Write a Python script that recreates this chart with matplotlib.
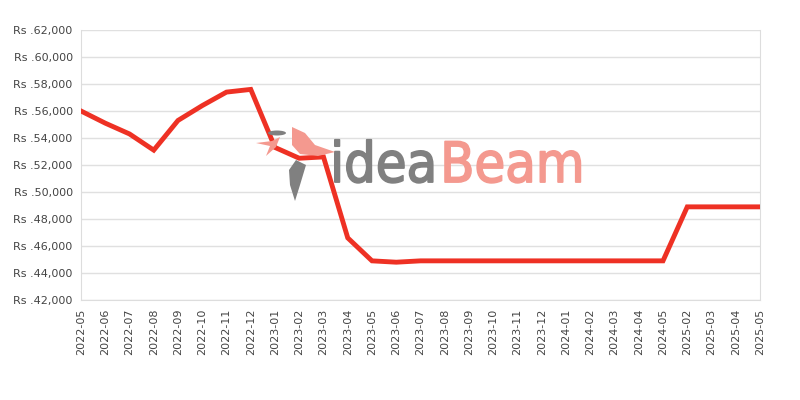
import matplotlib.pyplot as plt
import matplotlib.patheffects as pe
from matplotlib.ticker import FuncFormatter
from matplotlib.patches import Polygon, Ellipse

months = ['2022-05', '2022-06', '2022-07', '2022-08', '2022-09', '2022-10',
          '2022-11', '2022-12', '2023-01', '2023-02', '2023-03', '2023-04',
          '2023-05', '2023-06', '2023-07', '2023-08', '2023-09', '2023-10',
          '2023-11', '2023-12', '2024-01', '2024-02', '2024-03', '2024-04',
          '2024-05', '2025-02', '2025-03', '2025-04', '2025-05']
prices = [56000, 55100, 54300, 53100, 55300, 56400,
          57400, 57600, 53300, 52500, 52600, 46600,
          44900, 44800, 44900, 44900, 44900, 44900,
          44900, 44900, 44900, 44900, 44900, 44900,
          44900, 48900, 48900, 48900, 48900]

W, H = 800, 400
fig = plt.figure(figsize=(8, 4), dpi=100)
ax = fig.add_axes([81 / W, 100 / H, 679 / W, 270 / H])

x = list(range(len(months)))
ax.plot(x, prices, color='#ee3124', linewidth=3.5, solid_joinstyle='miter', zorder=3)

ax.set_xlim(0, len(months) - 1)
ax.set_ylim(42000, 62000)
ax.set_yticks(range(42000, 62001, 2000))
ax.yaxis.set_major_formatter(FuncFormatter(lambda v, p: 'Rs .{:,.0f}'.format(v)))
ax.set_xticks(x)
ax.set_xticklabels(months, rotation=90)
ax.tick_params(length=0, labelsize=8, colors='#444444', pad=6)
ax.grid(axis='y', color='#e0e0e0', linewidth=1)
ax.set_axisbelow(True)
for side in ['left', 'bottom', 'right']:
    ax.spines[side].set_color('#dddddd')
ax.spines['top'].set_visible(False)

# watermark logo
for s, xpos, col in [('idea', 0.367, '#808080'), ('Beam', 0.529, '#f4998f')]:
    ax.text(xpos, 0.437, s, transform=ax.transAxes, fontsize=40,
            family='DejaVu Sans', fontstretch='condensed',
            color=col, ha='left', va='baseline', zorder=1,
            path_effects=[pe.withStroke(linewidth=1.3, foreground=col)])


def px(pts):
    return [(a / W, 1 - b / H) for a, b in pts]


fig.patches.append(Polygon(px([(292, 127), (305, 133), (315, 145), (335, 152),
                               (318, 156), (300, 154), (292, 145)]),
                           closed=True, transform=fig.transFigure,
                           facecolor='#f4998f', edgecolor='none', zorder=1))
fig.patches.append(Polygon(px([(256, 143), (272, 141), (280, 137), (276, 147),
                               (266, 156), (270, 146)]),
                           closed=True, transform=fig.transFigure,
                           facecolor='#f4998f', edgecolor='none', zorder=1))
fig.patches.append(Ellipse((277 / W, 1 - 133 / H), 18 / W, 5 / H,
                           transform=fig.transFigure, facecolor='#808080',
                           edgecolor='none', zorder=1))
fig.patches.append(Polygon(px([(296, 160), (306, 165), (300, 185), (295, 201),
                               (290, 185), (289, 170)]),
                           closed=True, transform=fig.transFigure,
                           facecolor='#808080', edgecolor='none', zorder=1))

fig.savefig('out.png', dpi=100)
